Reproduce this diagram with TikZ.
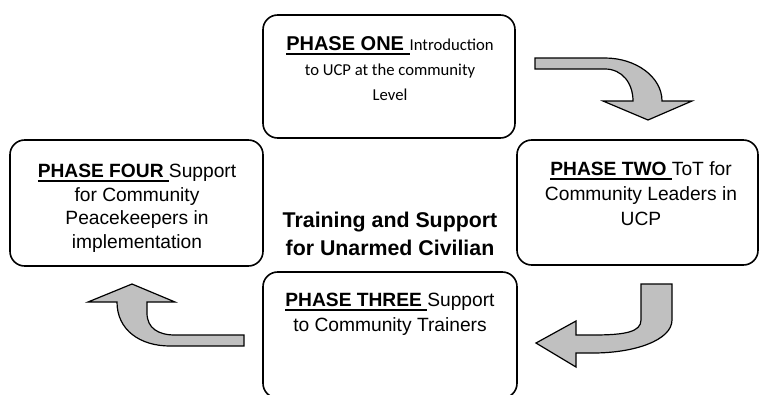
\documentclass[tikz,border=0pt]{standalone}
\usepackage{fontspec}
\setmainfont{Liberation Sans}
\newfontfamily\calibrifont{Carlito}
\usetikzlibrary{positioning}

\definecolor{arrowgray}{RGB}{192,192,192}

% bold, underlined phase title (the line runs under the trailing space)
\newcommand{\phasehead}[1]{\setbox0\hbox{\bfseries #1\ }\rlap{\rule[-3.4pt]{\wd0}{1.6pt}}\box0}

\tikzset{
    phasebox/.style={draw, line width=1.2pt, rounded corners=11pt, inner sep=0pt},
    phasetext/.style={align=center, inner sep=0pt, anchor=north,
        font=\fontsize{14.4}{18.75}\selectfont},
    bentarrow/.style={draw, fill=arrowgray, line width=0.9pt, line join=miter},
}

\begin{document}
\begin{tikzpicture}[x=0.75pt, y=-0.75pt]
    \clip (0,0) rectangle (760,394);

    % the four phases
    \node[phasebox, minimum width=189pt, minimum height=92.25pt] (one) at (389,76.5) {};
    \node[phasebox, minimum width=180.75pt, minimum height=93.75pt] (two) at (637.5,202.5) {};
    \node[phasebox, minimum width=190.5pt, minimum height=94.5pt] (three) at (390,335) {};
    \node[phasebox, minimum width=189.75pt, minimum height=94.5pt] (four) at (136.5,203) {};

    \node[phasetext, font=\fontsize{15}{19}\selectfont] (onetxt) at (390,36)
        {\phasehead{PHASE ONE}{\calibrifont\fontsize{12.5}{19}\selectfont Introduction}\\
         {\calibrifont\fontsize{12.5}{19}\selectfont to UCP at the community}\\
         {\calibrifont\fontsize{12.5}{19}\selectfont Level}};
    \node[phasetext] (twotxt) at (641,161)
        {\phasehead{PHASE TWO}ToT for\\Community Leaders in\\UCP};
    \node[phasetext] (threetxt) at (390,293)
        {\phasehead{PHASE THREE}Support\\to Community Trainers};
    \node[phasetext, font=\fontsize{14.4}{17.6}\selectfont] (fourtxt) at (137,164)
        {\phasehead{PHASE FOUR}Support\\for Community\\Peacekeepers in\\implementation};

    \node[phasetext, font=\bfseries\fontsize{16}{21}\selectfont] (centre) at (390,212)
        {Training and Support\\for Unarmed Civilian};

    % bent block arrows
    \path[bentarrow] (535,58) -- (605,58) .. controls (636,58) and (662,77) .. (662,101)
        -- (692,101) -- (648,120) -- (603,101) -- (633,101)
        .. controls (633,83) and (622,69) .. (605,69) -- (535,69) -- cycle;
    \path[bentarrow] (672,284) -- (672,320) .. controls (672,340) and (635,353) .. (593,353)
        -- (576,353) -- (576,367) -- (536,343) -- (576,321) -- (576,335) -- (593,335)
        .. controls (625,335) and (641,332) .. (641,320) -- (641,284) -- cycle;
    \path[bentarrow] (244,346) -- (170,346) .. controls (140,346) and (117,330) .. (117,302)
        -- (88,302) -- (132,284) -- (175,302) -- (147,302) -- (147,313)
        .. controls (147,328) and (158,335) .. (175,335) -- (244,335) -- cycle;
\end{tikzpicture}
\end{document}
